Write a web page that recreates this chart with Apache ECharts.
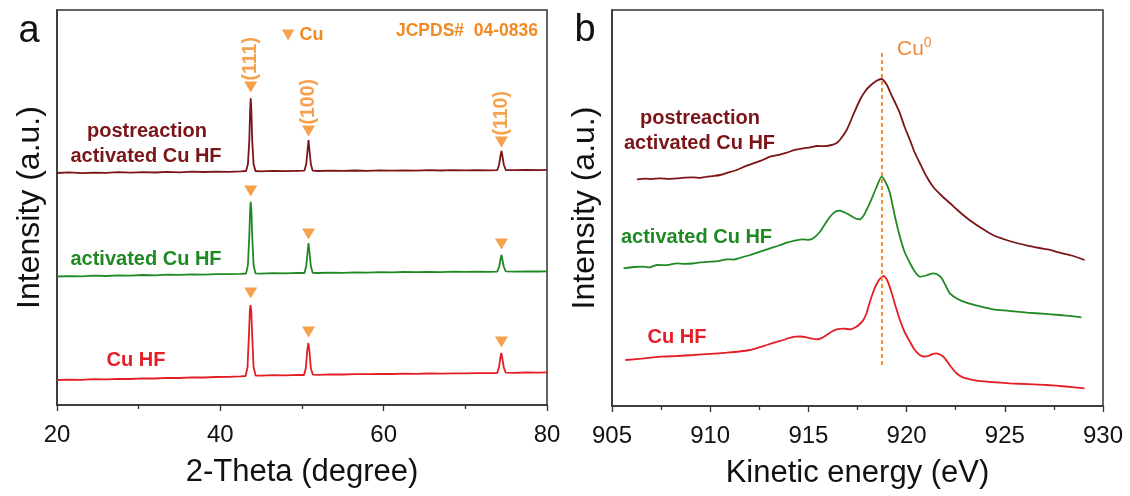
<!DOCTYPE html>
<html>
<head>
<meta charset="utf-8">
<script src="https://cdn.jsdelivr.net/npm/echarts@6/dist/echarts.min.js"></script>
<style>
html,body{margin:0;padding:0;background:#fff;}
#chart{width:1130px;height:496px;}
</style>
</head>
<body>
<div id="chart"></div>
<script>
// ---------------- DATA ----------------
// Panel a: XRD (2-Theta in degree, intensity a.u.)
const xrdTicks = [20, 40, 60, 80];
const xrdPost = [[20,232],[21.5,232.6],[23,231.8],[24.5,232.4],[26,232.1],[27.5,232.8],[29,232.3],[30.5,232.9],[32,232.5],[33.5,233.1],[35,232.7],[36.5,233.3],[38,233],[39.5,233.4],[41,233.2],[42.5,233.6],[43.15,234],[43.38,241],[43.55,265],[43.65,295],[43.72,306.7],[43.8,295],[43.9,265],[44.07,241],[44.3,234],[45,233.7],[46.5,234.1],[48,233.8],[49.5,234.2],[50.3,234.4],[50.52,241],[50.7,256],[50.8,265],[50.9,256],[51.08,241],[51.3,234.4],[52,234],[53.5,234.4],[55,234.1],[56.5,234.5],[58,234.2],[59.5,234.6],[61,234.3],[62.5,234.7],[64,234.4],[65.5,234.8],[67,234.5],[68.5,234.9],[70,234.6],[71.5,234.9],[73,234.7],[73.9,234.8],[74.13,240],[74.32,250],[74.42,254],[74.52,250],[74.72,240],[74.95,235],[76,234.8],[77.5,235.1],[79,234.9],[80,235.1]];
const xrdAct = [[20,128.5],[21.5,128.9],[23,128.6],[24.5,129.3],[26,129],[27.5,129.6],[29,129.4],[30.5,130],[32,129.7],[33.5,130.3],[35,130.1],[36.5,130.6],[38,130.4],[39.5,130.9],[41,130.8],[42.5,131.2],[43.15,131.5],[43.38,140],[43.55,170],[43.65,195],[43.72,203.3],[43.8,195],[43.9,170],[44.07,140],[44.3,131.6],[45,131.4],[46.5,131.9],[48,131.7],[49.5,132.1],[50.3,132],[50.52,139],[50.7,154],[50.8,162],[50.9,154],[51.08,139],[51.3,132.2],[52,132],[53.5,132.4],[55,132.2],[56.5,132.6],[58,132.4],[59.5,132.8],[61,132.6],[62.5,133],[64,132.8],[65.5,133.1],[67,132.9],[68.5,133.3],[70,133.1],[71.5,133.4],[73,133.2],[73.9,133.4],[74.13,138],[74.32,146],[74.42,150],[74.52,146],[74.72,138],[74.95,133.6],[76,133.4],[77.5,133.7],[79,133.5],[80,133.7]];
const xrdCu = [[20,25],[21.5,25.4],[23,25.2],[24.5,25.8],[26,25.6],[27.5,26.2],[29,26],[30.5,26.6],[32,26.5],[33.5,27.1],[35,27],[36.5,27.6],[38,27.5],[39.5,28],[41,28.2],[42.5,28.6],[43.1,29],[43.33,38],[43.5,70],[43.62,95],[43.7,100],[43.78,95],[43.9,70],[44.07,38],[44.32,29.5],[45,29.4],[46.5,29.8],[48,29.7],[49.5,30.1],[50.25,30],[50.47,37],[50.65,55],[50.78,62],[50.9,55],[51.08,37],[51.33,30.3],[52,30.2],[53.5,30.6],[55,30.5],[56.5,30.9],[58,30.8],[59.5,31.1],[61,31],[62.5,31.3],[64,31.2],[65.5,31.5],[67,31.4],[68.5,31.7],[70,31.6],[71.5,31.9],[73,31.8],[73.9,32],[74.13,38],[74.3,48],[74.4,52],[74.5,48],[74.7,38],[74.95,32.3],[76,32.2],[77.5,32.5],[79,32.4],[80,32.6]];
// Cu reference reflections (JCPDS# 04-0836)
const cuPeakPos = [43.72, 50.8, 74.42];
const cuPeakLabels = ['(111)', '(100)', '(110)'];
const cuMarkPost = [318, 274, 263];
const cuMarkAct = [214, 171, 161];
const cuMarkCu = [112, 73, 63];

// Panel b: Cu LMM Auger (kinetic energy eV, intensity a.u.)
const kinTicks = [905, 910, 915, 920, 925, 930];
const augPost = [[906.27,226.7],[906.7,227.3],[907.0,226.9],[907.46,227.7],[907.9,227.2],[908.3,227.6],[908.7,228.3],[909.15,228.7],[909.5,228.2],[909.8,229.2],[910.2,230.1],[910.5,231],[910.9,233.4],[911.35,236],[911.8,239.8],[912.2,242.7],[912.6,245.3],[913.05,249.3],[913.5,251.2],[913.9,253.3],[914.3,256.1],[914.74,257.7],[915.1,258.6],[915.42,260],[915.8,259.8],[916.18,261],[916.4,262.5],[916.6,266],[916.95,276],[917.28,291],[917.62,306],[917.9,315],[918.13,320],[918.45,325],[918.73,327],[919.0,321],[919.15,314.3],[919.4,304],[919.66,292.7],[919.9,279],[920.17,266],[920.4,254],[920.67,243],[921.0,230],[921.35,219.3],[921.8,210],[922.2,203],[922.7,194],[923.2,186],[923.8,178],[924.4,171],[925.0,166.5],[925.6,163],[926.2,160.2],[926.77,158],[927.3,156.1],[927.8,153.3],[928.4,150.5],[929.06,146]];
const augAct = [[905.59,137.7],[906.1,139],[906.6,139.3],[906.9,138.6],[907.3,141],[907.8,140.8],[908.3,142.7],[908.7,142.1],[909.1,142.5],[909.5,143.6],[910.0,144.3],[910.4,144.9],[910.85,146.7],[911.2,146.4],[911.5,148],[912.03,151],[912.5,154.2],[913.05,157.7],[913.5,160.5],[913.9,163.3],[914.3,165.4],[914.74,166.7],[915.0,166.2],[915.25,167.7],[915.59,174.3],[915.85,182],[916.1,189.3],[916.35,194],[916.6,195.3],[916.85,193.5],[917.1,191],[917.4,187.5],[917.62,186.7],[917.8,190],[917.96,196],[918.13,203],[918.45,218],[918.73,229.3],[918.95,223],[919.15,213],[919.4,190],[919.66,169.3],[919.9,154],[920.17,143],[920.4,135],[920.67,129.3],[921.0,130.5],[921.35,132.7],[921.55,131.8],[921.78,128],[922.0,120],[922.2,112.7],[922.6,107],[923.05,103.3],[923.7,99.8],[924.4,96.7],[925.2,95.2],[926.1,93.3],[926.9,92.4],[927.8,91],[928.4,89.9],[928.9,88.7]];
const augCu = [[905.68,46],[906.5,47.3],[907.46,49.3],[908.3,50],[909.15,51],[910.0,52.1],[910.85,53.3],[911.5,54.5],[912.03,56],[912.45,58.4],[912.88,61],[913.3,63.6],[913.72,66],[914.0,67.8],[914.32,69.3],[914.6,69.5],[914.91,68.7],[915.2,67.3],[915.42,66.7],[915.7,68.2],[915.93,71],[916.2,74.5],[916.44,76.7],[916.8,77.3],[917.12,76.7],[917.4,78.8],[917.62,82],[917.8,86],[917.96,92.7],[918.13,104],[918.3,114],[918.45,121],[918.65,127.5],[918.84,130],[919.05,124],[919.24,113],[919.45,99],[919.66,86],[919.9,74],[920.17,64.3],[920.4,56.5],[920.67,51],[920.9,49.5],[921.1,50],[921.35,52.2],[921.52,52.7],[921.75,51],[921.95,47.7],[922.25,39.5],[922.54,32.7],[922.9,28.3],[923.56,25.3],[924.3,24],[925.25,22.7],[926.2,21.8],[927.1,21],[928.1,19.5],[929.06,17.7]];
const cu0Energy = 918.76;
const cu0LineRange = [41, 356];

// ---------------- STYLE ----------------
const FONT = '"Liberation Sans", Arial, Helvetica, sans-serif';
const C_POST = '#7a1518';
const C_ACT = '#1f8a24';
const C_CU = '#e41e26';
const C_OR = '#f28a22';
const C_AX = '#333333';

function markers(pos, heights, withLabels) {
  return pos.map((x, i) => {
    const item = { value: [x, heights[i]] };
    if (withLabels) {
      item.label = {
        show: true, formatter: cuPeakLabels[i], position: 'top', distance: 1,
        rotate: 90, align: 'left', verticalAlign: 'middle',
        color: C_OR, fontFamily: FONT, fontWeight: 'bold', fontSize: 19.5
      };
    }
    return item;
  });
}

function xAxisCommon(min, max, interval, gridIndex, name) {
  return {
    type: 'value', gridIndex, min, max, interval,
    name, nameLocation: 'middle', nameGap: 52,
    nameTextStyle: { fontFamily: FONT, fontSize: 31, color: '#111' },
    axisLine: { show: true, onZero: false, lineStyle: { color: C_AX, width: 1.5 } },
    axisTick: { show: true, inside: false, length: 6, lineStyle: { color: C_AX, width: 1.3 } },
    minorTick: { show: true, splitNumber: 2, length: 4, lineStyle: { color: C_AX, width: 1.3 } },
    axisLabel: { margin: 18, fontFamily: FONT, fontSize: 24, color: '#111' },
    splitLine: { show: false }, minorSplitLine: { show: false }
  };
}
function yAxisCommon(max, gridIndex) {
  return {
    type: 'value', gridIndex, min: 0, max,
    name: 'Intensity (a.u.)', nameLocation: 'middle', nameGap: 11, nameRotate: 90,
    nameTextStyle: { fontFamily: FONT, fontSize: 32, color: '#111' },
    axisLine: { show: true, lineStyle: { color: C_AX, width: 1.5 } },
    axisTick: { show: false }, axisLabel: { show: false }, splitLine: { show: false }
  };
}
function lineSeries(name, data, color, xi, smooth) {
  return {
    name, type: 'line', xAxisIndex: xi, yAxisIndex: xi, data,
    showSymbol: false, symbol: 'none', smooth: smooth || false,
    lineStyle: { color, width: 1.8 }, silent: true, z: 3
  };
}
function txt(x, y, text, color, size, weight, align) {
  return {
    type: 'text', x, y, silent: true,
    style: { text, fill: color, font: (weight || 'bold') + ' ' + size + 'px ' + FONT,
             textAlign: align || 'center', textVerticalAlign: 'middle', verticalAlign: 'middle' }
  };
}

const chart = echarts.init(document.getElementById('chart'), null, { renderer: 'canvas' });
const option = {
  animation: false,
  backgroundColor: '#fff',
  grid: [
    { left: 57, right: 583, top: 10, bottom: 91, show: true, borderColor: C_AX, borderWidth: 1.5, containLabel: false },
    { left: 612, right: 27, top: 10, bottom: 90, show: true, borderColor: C_AX, borderWidth: 1.5, containLabel: false }
  ],
  xAxis: [
    xAxisCommon(xrdTicks[0], xrdTicks[xrdTicks.length - 1], 20, 0, '2-Theta (degree)'),
    xAxisCommon(kinTicks[0], kinTicks[kinTicks.length - 1], 5, 1, 'Kinetic energy (eV)')
  ],
  yAxis: [ yAxisCommon(395, 0), yAxisCommon(396, 1) ],
  legend: {
    data: [{ name: 'Cu', icon: 'path://M0,0L10,0L5,9Z' }],
    left: 277, top: 21, itemWidth: 13, itemHeight: 11,
    textStyle: { color: C_OR, fontFamily: FONT, fontWeight: 'bold', fontSize: 18 },
    selectedMode: false
  },
  series: [
    lineSeries('postreaction activated Cu HF', xrdPost, C_POST, 0),
    lineSeries('activated Cu HF', xrdAct, C_ACT, 0),
    lineSeries('Cu HF', xrdCu, C_CU, 0),
    {
      name: 'Cu', type: 'scatter', xAxisIndex: 0, yAxisIndex: 0,
      symbol: 'triangle', symbolRotate: 180, symbolSize: [13, 11],
      itemStyle: { color: C_OR }, silent: true, z: 4,
      data: markers(cuPeakPos, cuMarkPost, true)
        .concat(markers(cuPeakPos, cuMarkAct, false))
        .concat(markers(cuPeakPos, cuMarkCu, false))
    },
    lineSeries('postreaction activated Cu HF (b)', augPost, C_POST, 1, 0.2),
    lineSeries('activated Cu HF (b)', augAct, C_ACT, 1, 0.2),
    Object.assign(lineSeries('Cu HF (b)', augCu, C_CU, 1, 0.2), {
      markLine: {
        silent: true, symbol: 'none', animation: false,
        lineStyle: { color: '#f0923a', width: 2, type: [4, 3] },
        label: { show: false },
        data: [[ { coord: [cu0Energy, cu0LineRange[0]] }, { coord: [cu0Energy, cu0LineRange[1]] } ]]
      }
    })
  ],
  graphic: [
    txt(29, 32, 'a', '#111', 38, 'normal'),
    txt(585, 31, 'b', '#111', 38, 'normal'),
    txt(538, 31, 'JCPDS#  04-0836', C_OR, 17.5, 'bold', 'right'),
    txt(147, 131, 'postreaction', C_POST, 20),
    txt(146, 156, 'activated Cu HF', C_POST, 20),
    txt(146, 259, 'activated Cu HF', C_ACT, 20),
    txt(136, 360, 'Cu HF', C_CU, 20),
    txt(700, 118, 'postreaction', C_POST, 20),
    txt(699.5, 143, 'activated Cu HF', C_POST, 20),
    txt(696.5, 237, 'activated Cu HF', C_ACT, 20),
    txt(677, 337, 'Cu HF', C_CU, 20),
    {
      type: 'text', x: 897, y: 36, silent: true,
      style: {
        text: '{b|Cu}{s|0}',
        rich: {
          b: { fontFamily: FONT, fontSize: 21, lineHeight: 24, fill: '#ee8a3a', color: '#ee8a3a', verticalAlign: 'bottom' },
          s: { fontFamily: FONT, fontSize: 14, lineHeight: 14, fill: '#ee8a3a', color: '#ee8a3a', verticalAlign: 'top' }
        }
      }
    }
  ]
};
chart.setOption(option);
</script>
</body>
</html>
